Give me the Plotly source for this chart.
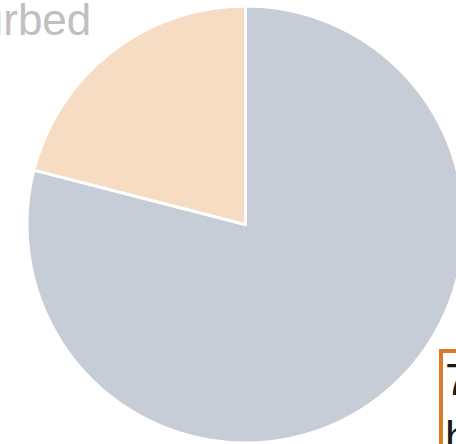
import plotly.graph_objects as go

labels = ["Undisturbed", "Disturbed"]
values = [79, 21]
slice_colors = ["#c7cdd7", "#f6dcc2"]
label_text = "Disturbed"
callout_text = "79%<br>have been disturbed"

W, H = 600, 449
OFF = 0  # page margin removed below


def px_x(px):
    return (px - OFF) / W


def px_y(py):
    return 1 - (py - OFF) / H


fig = go.Figure(
    go.Pie(
        labels=labels,
        values=values,
        sort=False,
        direction="clockwise",
        rotation=0,
        marker=dict(colors=slice_colors, line=dict(color="white", width=3)),
        textinfo="none",
        hoverinfo="none",
        showlegend=False,
        domain=dict(x=[27 / W, 464 / W], y=[6 / H, 1 - 6 / H]),
    )
)

fig.add_annotation(
    text=label_text,
    xref="paper", yref="paper",
    x=px_x(93), y=px_y(20),
    xanchor="right", yanchor="middle",
    showarrow=False,
    font=dict(family="Liberation Sans, Arial, sans-serif", size=44, color="#c0c0c0"),
)

fig.add_annotation(
    text=callout_text,
    xref="paper", yref="paper",
    x=px_x(439), y=px_y(349),
    xanchor="left", yanchor="top",
    align="left",
    showarrow=False,
    bordercolor="#d97b2a", borderwidth=4, borderpad=2,
    bgcolor="white",
    font=dict(family="Liberation Sans, Arial, sans-serif", size=44, color="#1a1a1a"),
)

fig.update_layout(
    width=W, height=H,
    margin=dict(l=0, r=0, t=0, b=0),
    paper_bgcolor="white",
    plot_bgcolor="white",
)

fig.write_html(
    "out.html",
    post_script=(
        "document.body.style.margin='0';"
        "document.body.style.overflow='hidden';"
        "document.documentElement.style.overflow='hidden';"
    ),
)
